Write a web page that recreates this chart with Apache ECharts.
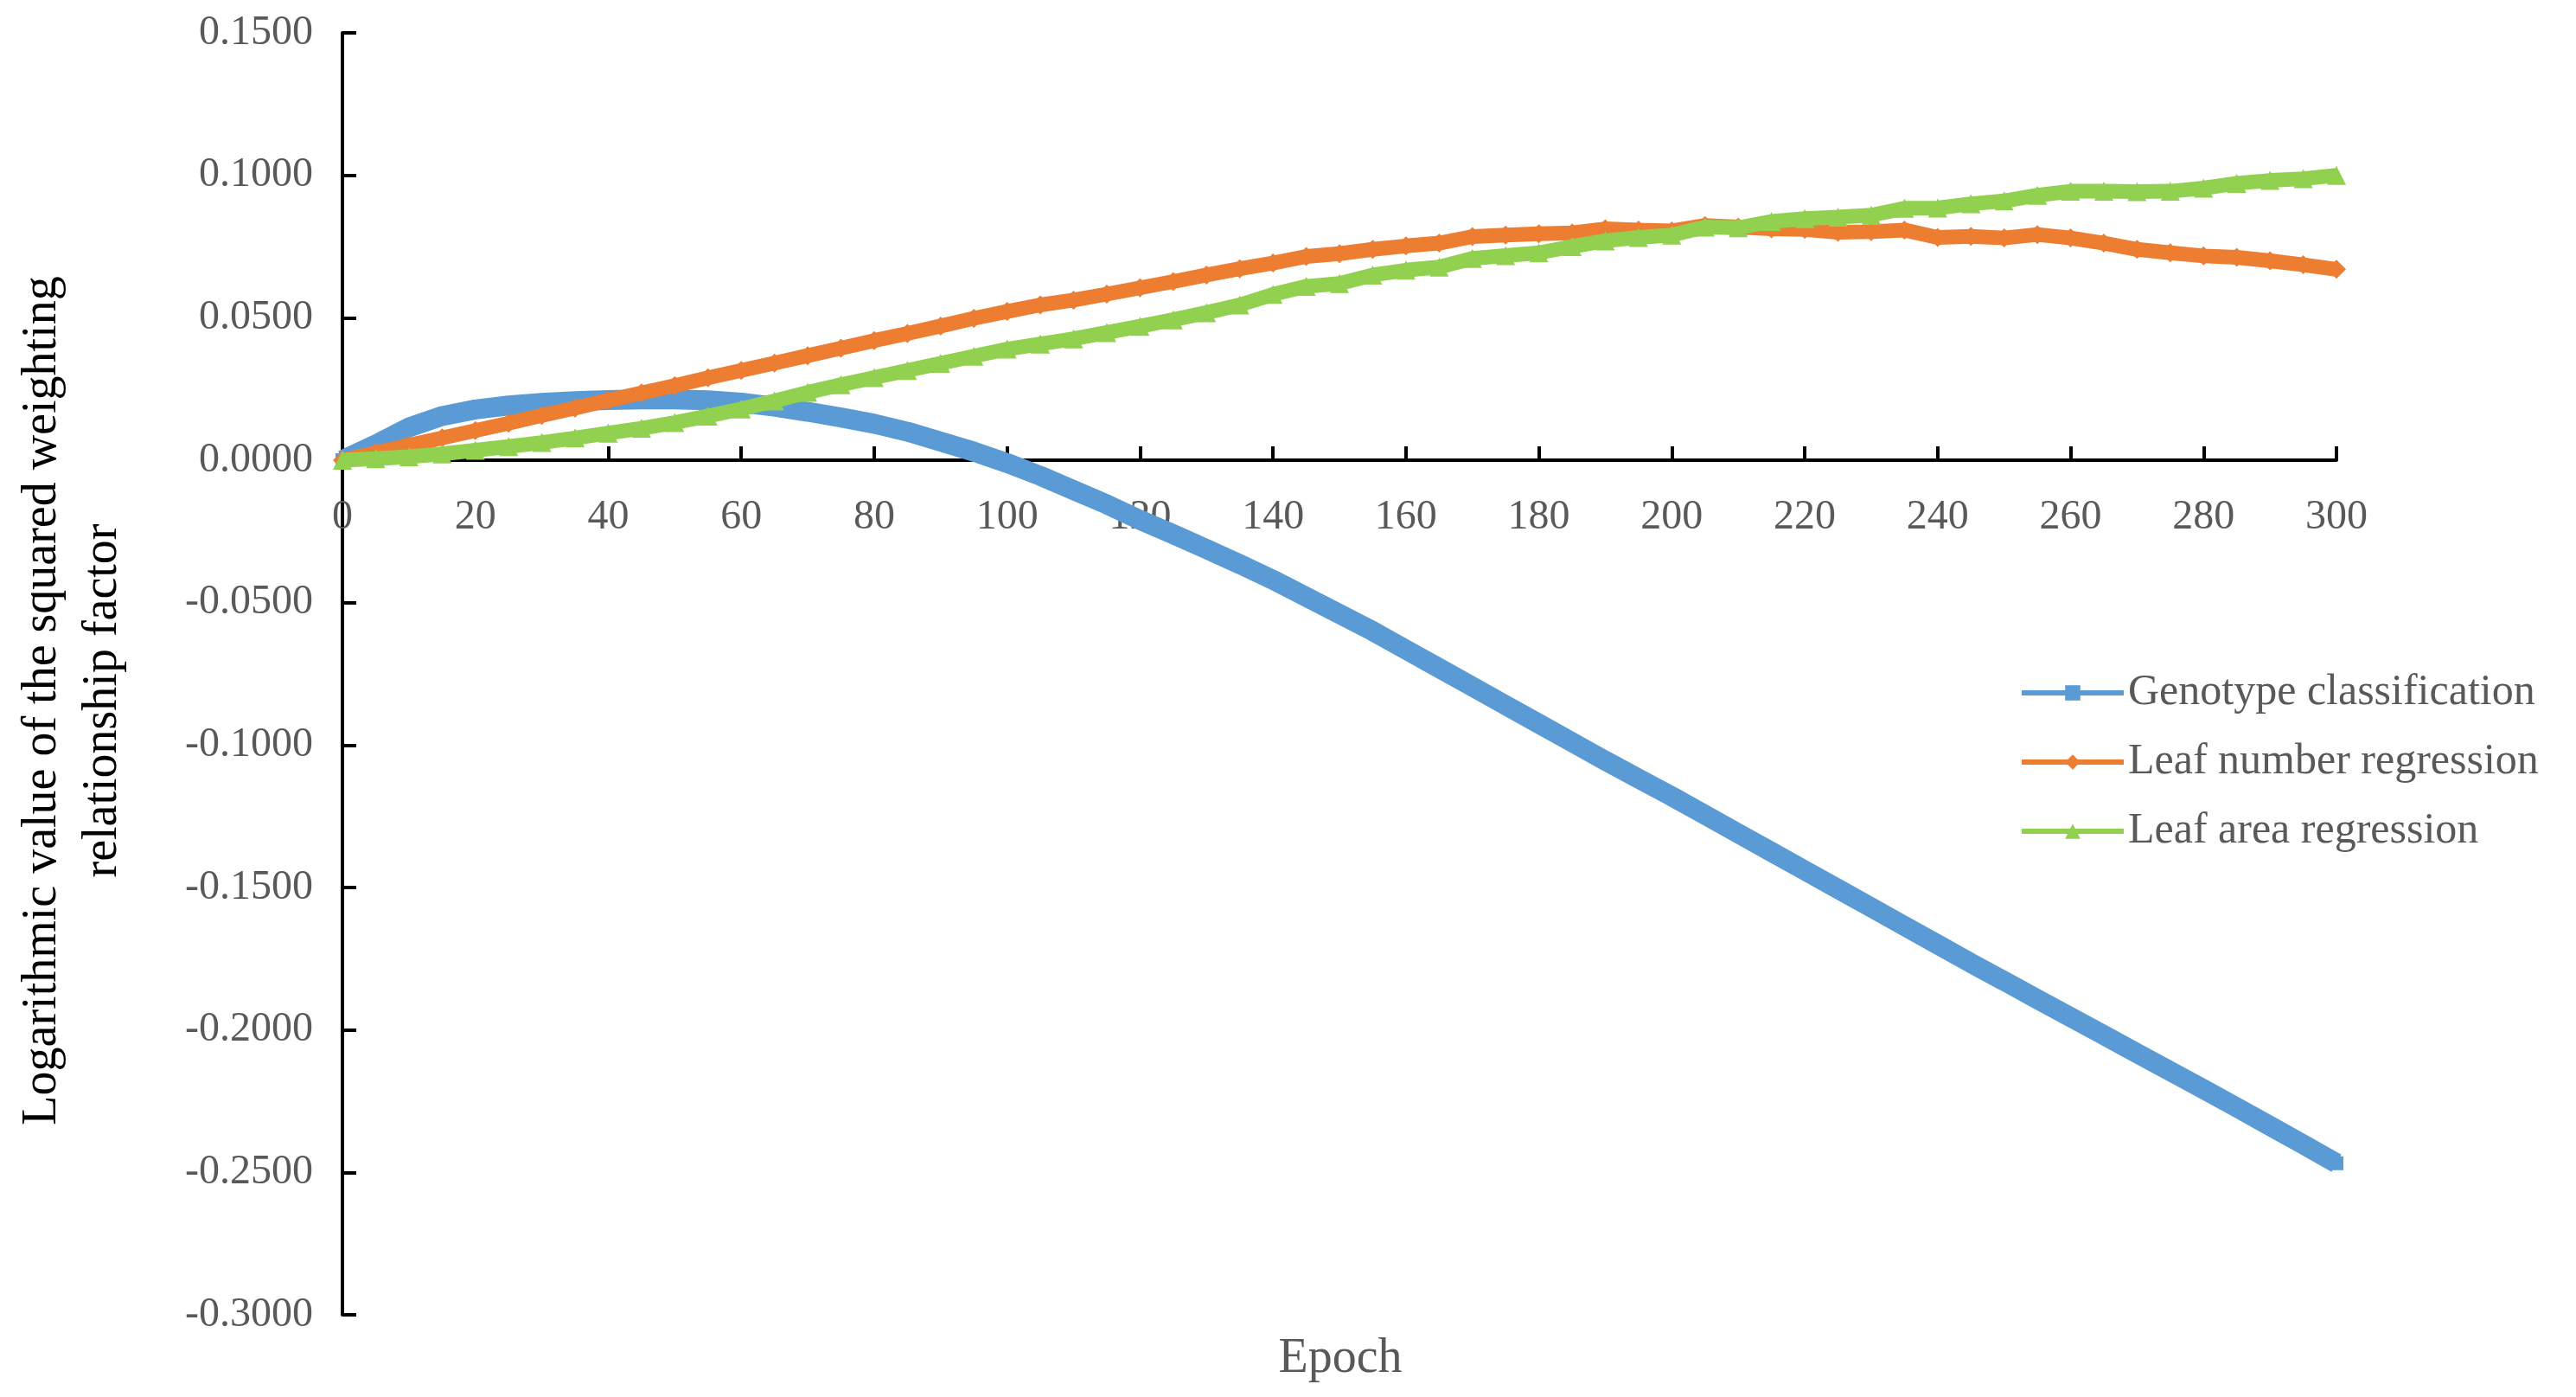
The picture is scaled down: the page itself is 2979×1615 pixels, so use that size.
<!DOCTYPE html>
<html>
<head>
<meta charset="utf-8">
<script src="https://cdn.jsdelivr.net/npm/echarts@6/dist/echarts.min.js"></script>
<style>
html,body{margin:0;padding:0;background:#fff;}
#chart{width:2979px;height:1615px;}
</style>
</head>
<body>
<div id="chart"></div>
<script>
const epochs = [0,5,10,15,20,25,30,35,40,45,50,55,60,65,70,75,80,85,90,95,100,105,110,115,120,125,130,135,140,145,150,155,160,165,170,175,180,185,190,195,200,205,210,215,220,225,230,235,240,245,250,255,260,265,270,275,280,285,290,295,300];

const genotypeClassification = [0.0000,0.0055,0.0115,0.0155,0.0178,0.0192,0.0201,0.0207,0.0211,0.0213,0.0213,0.0210,0.0202,0.0188,0.0170,0.0150,0.0128,0.0100,0.0065,0.0030,-0.0010,-0.0055,-0.0105,-0.0155,-0.0210,-0.0260,-0.0312,-0.0365,-0.0420,-0.0480,-0.0540,-0.0600,-0.0665,-0.0730,-0.0795,-0.0860,-0.0925,-0.0990,-0.1055,-0.1118,-0.1180,-0.1245,-0.1310,-0.1375,-0.1440,-0.1505,-0.1570,-0.1635,-0.1700,-0.1765,-0.1828,-0.1892,-0.1955,-0.2018,-0.2082,-0.2145,-0.2208,-0.2272,-0.2337,-0.2402,-0.2468];

const leafNumberRegression = [0.0000,0.0026,0.0052,0.0078,0.0104,0.0130,0.0157,0.0183,0.0210,0.0236,0.0262,0.0289,0.0315,0.0341,0.0367,0.0393,0.0420,0.0445,0.0471,0.0498,0.0522,0.0545,0.0562,0.0583,0.0605,0.0627,0.0650,0.0672,0.0692,0.0715,0.0725,0.0740,0.0752,0.0762,0.0785,0.0790,0.0795,0.0798,0.0812,0.0808,0.0805,0.0824,0.0818,0.0812,0.0810,0.0800,0.0802,0.0808,0.0782,0.0786,0.0780,0.0792,0.0780,0.0762,0.0740,0.0728,0.0717,0.0712,0.0700,0.0686,0.0670];

const leafAreaRegression = [0.0000,0.0005,0.0012,0.0022,0.0035,0.0048,0.0062,0.0078,0.0095,0.0112,0.0132,0.0155,0.0180,0.0208,0.0238,0.0265,0.0290,0.0315,0.0340,0.0365,0.0390,0.0408,0.0426,0.0448,0.0470,0.0493,0.0518,0.0545,0.0582,0.0610,0.0620,0.0650,0.0667,0.0678,0.0708,0.0718,0.0728,0.0750,0.0770,0.0782,0.0790,0.0818,0.0816,0.0838,0.0848,0.0853,0.0860,0.0884,0.0885,0.0900,0.0910,0.0930,0.0944,0.0944,0.0943,0.0944,0.0955,0.0972,0.0982,0.0988,0.1000];

const seriesNames = ['Genotype classification','Leaf number regression','Leaf area regression'];
const xTitle = 'Epoch';
const yTitle = 'Logarithmic value of the squared weighting\nrelationship factor';

const FONT = '"Liberation Serif", "Times New Roman", serif';
const pairs = arr => epochs.map((e, i) => [e, arr[i]]);

const GRID_TOP = 38, GRID_BOTTOM = 95, H = 1615;
const Y_MIN = -0.3, Y_MAX = 0.15;
// shift the x axis (line, ticks, labels) up to the zero value of the y axis
const plotH = H - GRID_TOP - GRID_BOTTOM;
const zeroOffset = -plotH * (0 - Y_MIN) / (Y_MAX - Y_MIN);

const chart = echarts.init(document.getElementById('chart'), null, {renderer: 'canvas'});
chart.setOption({
  backgroundColor: '#ffffff',
  animation: false,
  grid: {left: 396, right: 277, top: GRID_TOP, bottom: GRID_BOTTOM, containLabel: false},
  xAxis: {
    type: 'value', min: 0, max: 300, interval: 20,
    offset: zeroOffset,
    axisLine: {onZero: false, lineStyle: {color: '#000', width: 4}},
    axisTick: {inside: true, length: 16, lineStyle: {color: '#000', width: 4}},
    axisLabel: {margin: 42, fontSize: 48, fontFamily: FONT, color: '#595959'},
    splitLine: {show: false}
  },
  yAxis: {
    type: 'value', min: Y_MIN, max: Y_MAX, interval: 0.05,
    axisLine: {show: true, onZero: false, lineStyle: {color: '#000', width: 4}},
    axisTick: {show: true, inside: true, length: 16, lineStyle: {color: '#000', width: 4}},
    axisLabel: {
      margin: 34, fontSize: 48, fontFamily: FONT, color: '#595959',
      formatter: v => (Math.abs(v) < 1e-9 ? 0 : v).toFixed(4)
    },
    splitLine: {show: false}
  },
  legend: {
    orient: 'vertical', left: 2330, top: 771,
    itemWidth: 118, itemHeight: 22, itemGap: 30,
    textStyle: {fontSize: 50, fontFamily: FONT, color: '#595959', lineHeight: 50},
    lineStyle: {width: 6},
    data: seriesNames
  },
  graphic: [
    {type: 'text', x: 1550, y: 1571,
     style: {text: xTitle, font: '56px ' + FONT, fill: '#595959', textAlign: 'center', textVerticalAlign: 'middle'}},
    {type: 'text', x: 84, y: 810, rotation: Math.PI / 2,
     style: {text: yTitle, font: '56px ' + FONT, fill: '#000', textAlign: 'center', textVerticalAlign: 'middle', lineHeight: 70}}
  ],
  series: [
    {name: seriesNames[0], type: 'line', data: pairs(genotypeClassification),
     symbol: 'rect', symbolSize: 16, showSymbol: true,
     itemStyle: {color: '#5B9BD5'}, lineStyle: {color: '#5B9BD5', width: 23}, z: 2},
    {name: seriesNames[1], type: 'line', data: pairs(leafNumberRegression),
     symbol: 'diamond', symbolSize: 22, showSymbol: true,
     itemStyle: {color: '#ED7D31'}, lineStyle: {color: '#ED7D31', width: 17}, z: 3},
    {name: seriesNames[2], type: 'line', data: pairs(leafAreaRegression),
     symbol: 'triangle', symbolSize: 22, showSymbol: true,
     itemStyle: {color: '#92D050'}, lineStyle: {color: '#92D050', width: 17}, z: 4}
  ]
});
</script>
</body>
</html>
